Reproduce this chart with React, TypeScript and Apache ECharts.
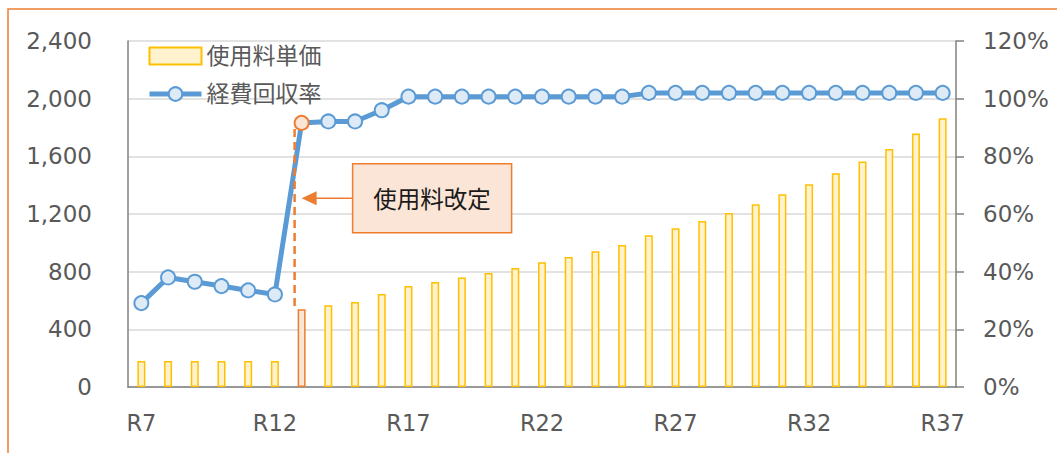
import React, { useEffect, useRef } from "react";
import * as echarts from "echarts";

const categories = [
  "R7", "R8", "R9", "R10", "R11", "R12", "R13", "R14", "R15", "R16",
  "R17", "R18", "R19", "R20", "R21", "R22", "R23", "R24", "R25", "R26",
  "R27", "R28", "R29", "R30", "R31", "R32", "R33", "R34", "R35", "R36", "R37",
];
const unitPrice = [
  180, 180, 180, 180, 180, 180, 540, 567, 590, 645,
  700, 728, 760, 791, 826, 865, 902, 941, 985, 1052,
  1101, 1151, 1207, 1267, 1337, 1406, 1482, 1565, 1651, 1758, 1864,
];
const recoveryRate = [
  29.1, 38.0, 36.5, 35.0, 33.5, 32.1, 91.6, 92.1, 92.1, 96.0,
  100.7, 100.7, 100.7, 100.7, 100.7, 100.7, 100.7, 100.7, 100.7, 102.0,
  102.0, 102.0, 102.0, 102.0, 102.0, 102.0, 102.0, 102.0, 102.0, 102.0, 102.0,
];
const leftTicks = { min: 0, max: 2400, interval: 400 };
const rightTicks = { min: 0, max: 120, interval: 20 };
const revisionIndex = 6;
const revisionLabel = "使用料改定";
const annotationLevel = 1310;

const FONT = "'DejaVu Sans', 'Noto Sans CJK JP', sans-serif";
const GRAY = "#595959";
const AXIS = "#808080";
const BLUE = "#5B9BD5";
const ORANGE = "#ED7D31";

export default function App() {
  const ref = useRef<HTMLDivElement>(null);
  useEffect(() => {
    if (!ref.current) return;
    const chart = echarts.init(ref.current, null, { renderer: "svg" });
    chart.setOption({
      animation: false,
      textStyle: { fontFamily: FONT },
      grid: { left: 128, right: 101, top: 41, bottom: 66, containLabel: false },
      legend: {
        orient: "vertical",
        left: 147,
        top: 44,
        padding: 0,
        itemGap: 14,
        itemWidth: 52,
        itemHeight: 17,
        lineStyle: { width: 5 },
        textStyle: { fontSize: 23, color: GRAY, fontFamily: FONT, lineHeight: 24 },
        data: [
          { name: "使用料単価", icon: "rect", itemStyle: { borderWidth: 2 } },
          { name: "経費回収率" },
        ],
      },
      xAxis: {
        type: "category",
        data: categories,
        axisLine: { lineStyle: { color: AXIS, width: 1.5 } },
        axisTick: { show: false },
        axisLabel: { interval: 4, color: GRAY, fontSize: 22.5, margin: 25, fontFamily: FONT },
      },
      yAxis: [
        {
          type: "value",
          ...leftTicks,
          axisLine: { show: true, lineStyle: { color: AXIS, width: 1.5 } },
          axisTick: { show: false },
          splitLine: { lineStyle: { color: "#D9D9D9", width: 1.5 } },
          axisLabel: {
            color: GRAY,
            fontSize: 23,
            margin: 36,
            fontFamily: FONT,
            formatter: (v: number) => v.toLocaleString("en-US"),
          },
        },
        {
          type: "value",
          ...rightTicks,
          position: "right",
          axisLine: { show: true, lineStyle: { color: AXIS, width: 1.5 } },
          axisTick: { show: true, length: 8, lineStyle: { color: AXIS, width: 1.5 } },
          splitLine: { show: false },
          axisLabel: { color: GRAY, fontSize: 23, margin: 27, fontFamily: FONT, formatter: "{value}%" },
        },
      ],
      series: [
        {
          name: "使用料単価",
          type: "bar",
          yAxisIndex: 0,
          barWidth: 8,
          itemStyle: { color: "#FFF2CC", borderColor: "#FFC000", borderWidth: 1.5 },
          data: unitPrice.map((v, i) =>
            i === revisionIndex
              ? { value: v, itemStyle: { color: "#FBE5D6", borderColor: ORANGE, borderWidth: 1.5 } }
              : v
          ),
        },
        {
          name: "経費回収率",
          type: "line",
          yAxisIndex: 1,
          symbol: "circle",
          symbolSize: 14,
          lineStyle: { color: BLUE, width: 5 },
          itemStyle: { color: "#DEEBF7", borderColor: BLUE, borderWidth: 2 },
          data: recoveryRate.map((v, i) =>
            i === revisionIndex
              ? { value: v, itemStyle: { color: "#FBE5D6", borderColor: ORANGE, borderWidth: 2 } }
              : v
          ),
          z: 5,
        },
      ],
    });

    const [xRev, yBarTop] = chart.convertToPixel({ seriesIndex: 0 }, [revisionIndex, unitPrice[revisionIndex]]) as number[];
    const [, yPoint] = chart.convertToPixel({ seriesIndex: 1 }, [revisionIndex, recoveryRate[revisionIndex]]) as number[];
    const yAnn = chart.convertToPixel({ yAxisIndex: 0 }, annotationLevel) as number;
    const boxX = xRev + 51;
    const boxW = 159;
    const boxH = 69;

    chart.setOption({
      graphic: [
        {
          type: "rect",
          shape: { x: 8, y: 9, width: 1200, height: 600 },
          style: { fill: "none", stroke: ORANGE, lineWidth: 1.5 },
          silent: true,
          z: 0,
        },
        {
          type: "line",
          shape: { x1: xRev - 7, y1: yPoint + 6, x2: xRev - 7, y2: yBarTop - 3 },
          style: { stroke: ORANGE, lineWidth: 2.5, lineDash: [8, 5] },
          z: 10,
        },
        {
          type: "line",
          shape: { x1: xRev + 14, y1: yAnn, x2: boxX, y2: yAnn },
          style: { stroke: ORANGE, lineWidth: 1.5 },
          z: 10,
        },
        {
          type: "polygon",
          shape: { points: [[xRev, yAnn], [xRev + 15, yAnn - 7], [xRev + 15, yAnn + 7]] },
          style: { fill: ORANGE },
          z: 10,
        },
        {
          type: "rect",
          shape: { x: boxX, y: yAnn - boxH / 2, width: boxW, height: boxH },
          style: { fill: "#FBE5D6", stroke: ORANGE, lineWidth: 1.5 },
          z: 10,
        },
        {
          type: "text",
          x: boxX + boxW / 2,
          y: yAnn,
          style: {
            text: revisionLabel,
            fill: "#1a1a1a",
            fontSize: 23.5,
            fontFamily: "'Noto Sans CJK JP', sans-serif",
            align: "center",
            verticalAlign: "middle",
          },
          z: 11,
        },
      ],
    });

    return () => chart.dispose();
  }, []);

  return (
    <div
      ref={ref}
      style={{ position: "fixed", left: 0, top: 0, width: 1057, height: 453, background: "#fff" }}
    />
  );
}
